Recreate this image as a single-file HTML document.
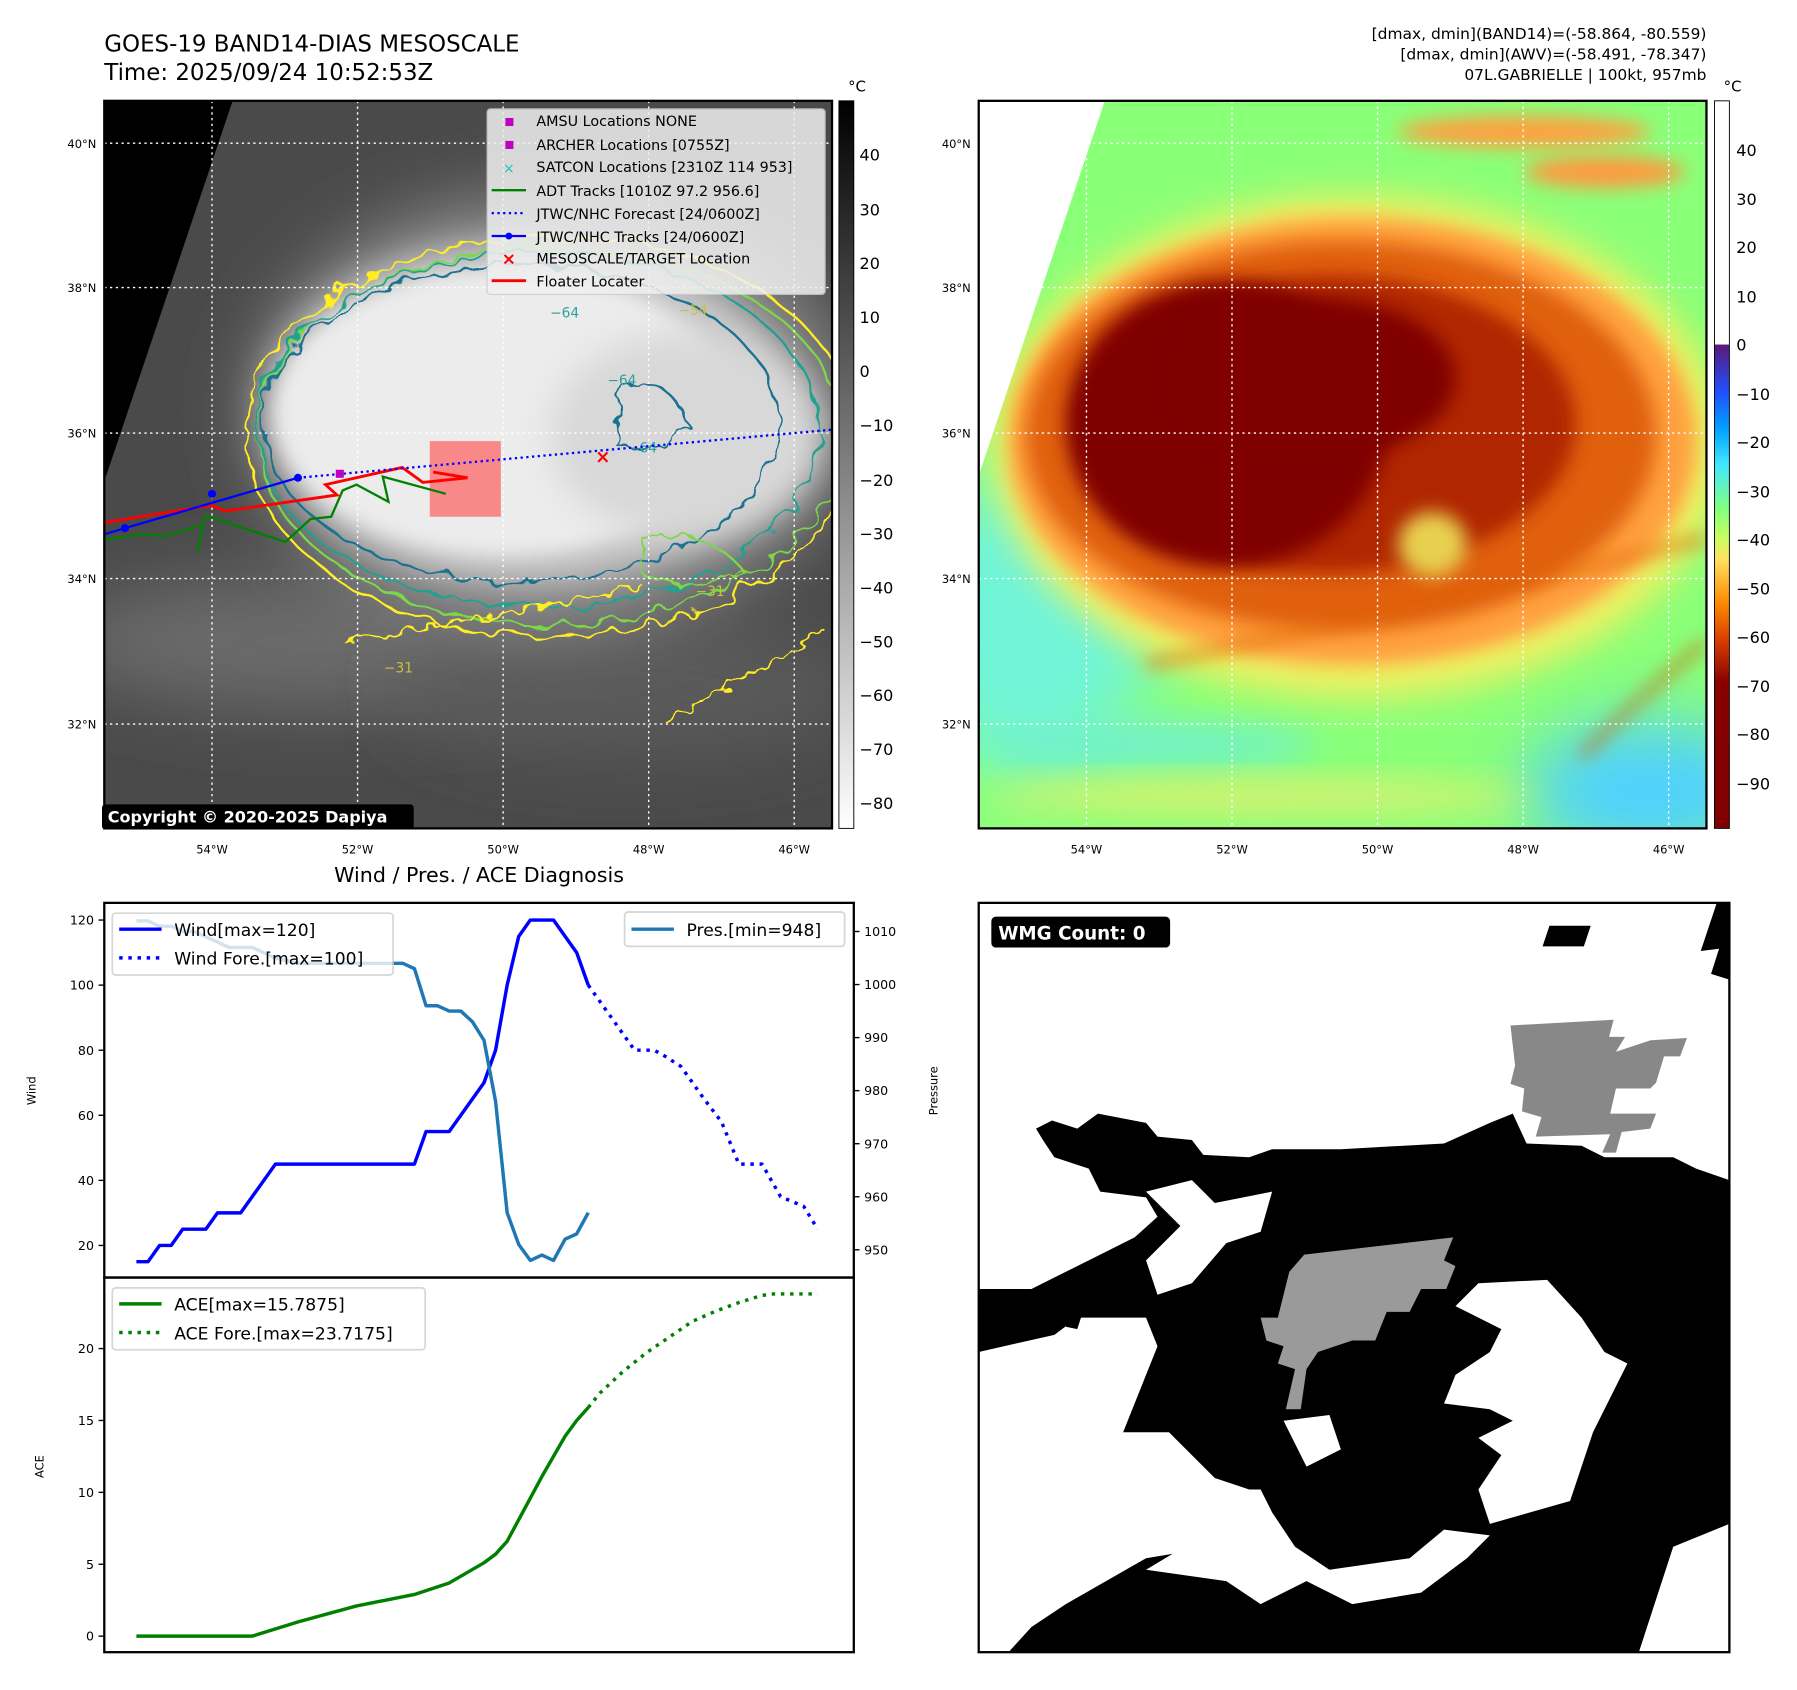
<!DOCTYPE html>
<html><head><meta charset="utf-8"><style>
html,body{margin:0;padding:0;background:#fff}
svg{display:block;font-family:"DejaVu Sans","Liberation Sans",sans-serif}
</style></head><body>
<svg id="fig" width="1797" height="1690" viewBox="0 0 1568 1475" preserveAspectRatio="none" xmlns="http://www.w3.org/2000/svg">
<defs>
<filter id="rough" x="-10%" y="-10%" width="120%" height="120%"><feTurbulence type="fractalNoise" baseFrequency="0.05" numOctaves="2" seed="3"/><feDisplacementMap in="SourceGraphic" scale="18"/></filter>
<filter id="rough2" x="-10%" y="-10%" width="120%" height="120%"><feTurbulence type="fractalNoise" baseFrequency="0.08" numOctaves="2" seed="7"/><feDisplacementMap in="SourceGraphic" scale="14"/></filter>
<filter id="blur8" x="-50%" y="-50%" width="200%" height="200%"><feGaussianBlur stdDeviation="8"/></filter>
<filter id="blur15" x="-50%" y="-50%" width="200%" height="200%"><feGaussianBlur stdDeviation="15"/></filter>
<filter id="blur30" x="-50%" y="-50%" width="200%" height="200%"><feGaussianBlur stdDeviation="30"/></filter>
<clipPath id="clipL"><rect x="91" y="88" width="635" height="635"/></clipPath>
<clipPath id="clipR"><rect x="854" y="88" width="635" height="635"/></clipPath>
<clipPath id="clipW"><rect x="854" y="788" width="655" height="654"/></clipPath>
<linearGradient id="cbL" x1="0" y1="0" x2="0" y2="1"><stop offset="0" stop-color="#000"/><stop offset="1" stop-color="#fff"/></linearGradient>
<linearGradient id="cbR" x1="0" y1="0" x2="0" y2="1">
<stop offset="0" stop-color="#fff"/><stop offset="0.334" stop-color="#fff"/><stop offset="0.336" stop-color="#5a1a78"/>
<stop offset="0.40" stop-color="#2050ff"/><stop offset="0.45" stop-color="#00a0ff"/><stop offset="0.50" stop-color="#40e8ff"/>
<stop offset="0.56" stop-color="#80ff80"/><stop offset="0.60" stop-color="#c8ff60"/><stop offset="0.63" stop-color="#ffe060"/>
<stop offset="0.69" stop-color="#ff8a00"/><stop offset="0.74" stop-color="#d84000"/><stop offset="0.80" stop-color="#880000"/><stop offset="1" stop-color="#800000"/></linearGradient>
</defs>

<!-- Titles -->
<text x="91" y="45" font-size="20">GOES-19 BAND14-DIAS MESOSCALE</text>
<text x="91" y="70" font-size="20">Time: 2025/09/24 10:52:53Z</text>
<g font-size="13.5" text-anchor="end">
<text x="1489" y="34">[dmax, dmin](BAND14)=(-58.864, -80.559)</text>
<text x="1489" y="52">[dmax, dmin](AWV)=(-58.491, -78.347)</text>
<text x="1489" y="70">07L.GABRIELLE | 100kt, 957mb</text>
</g>

<!-- LEFT MAP -->
<g clip-path="url(#clipL)">
<rect x="91" y="88" width="635" height="635" fill="#4a4a4a"/>
<ellipse cx="300" cy="560" rx="250" ry="60" fill="#6a6a6a" filter="url(#blur30)"/>
<ellipse cx="550" cy="600" rx="200" ry="60" fill="#5a5a5a" filter="url(#blur30)"/>
<ellipse cx="480" cy="360" rx="260" ry="190" fill="#8a8a8a" filter="url(#blur30)"/>
<ellipse cx="460" cy="360" rx="230" ry="150" fill="#c8c8c8" filter="url(#blur15)"/>
<ellipse cx="440" cy="360" rx="200" ry="125" fill="#ececec" filter="url(#blur8)"/>
<ellipse cx="600" cy="380" rx="120" ry="90" fill="#d8d8d8" filter="url(#blur15)"/>
<g fill="none" stroke-width="2" filter="url(#rough)">
<ellipse cx="480" cy="380" rx="265" ry="175" stroke="#ffee22"/>
<ellipse cx="480" cy="380" rx="255" ry="165" stroke="#7ad84a"/>
<ellipse cx="470" cy="375" rx="245" ry="155" stroke="#20a090"/>
<ellipse cx="455" cy="370" rx="225" ry="138" stroke="#1a7090"/>
</g>
<g fill="none" stroke-width="2" filter="url(#rough2)">
<path d="M300 560 Q430 540 560 510" stroke="#ffee22"/>
<path d="M580 630 Q650 590 720 550" stroke="#ffee22"/>
<path d="M540 340 Q580 320 600 370 Q580 400 540 390 Z" stroke="#1a7090"/>
<path d="M560 470 Q620 460 650 500 Q600 520 560 500 Z" stroke="#7ad84a"/>
</g>
<polygon points="91,88 203,88 91,420" fill="#000"/>
<g stroke="#fff" stroke-width="1.2" stroke-dasharray="2,3">
<line x1="185" y1="88" x2="185" y2="723"/><line x1="312" y1="88" x2="312" y2="723"/><line x1="439" y1="88" x2="439" y2="723"/><line x1="566" y1="88" x2="566" y2="723"/><line x1="693" y1="88" x2="693" y2="723"/>
<line x1="91" y1="125" x2="726" y2="125"/><line x1="91" y1="251" x2="726" y2="251"/><line x1="91" y1="378" x2="726" y2="378"/><line x1="91" y1="505" x2="726" y2="505"/><line x1="91" y1="632" x2="726" y2="632"/>
</g>
<g font-size="12" fill="#2aa0a0"><text x="480" y="277">−64</text><text x="530" y="336">−64</text><text x="548" y="395">−64</text><text x="592" y="275" fill="#c8c040">−54</text><text x="335" y="587" fill="#c8c040">−31</text><text x="607" y="520" fill="#c8c040">−31</text></g>
<rect x="375" y="385" width="62" height="66" fill="#ff6060" opacity="0.7"/>
<polyline points="92,471 124,466 144,468 177,458 172,483 179,450 249,473 271,453 289,451 299,428 311,423 339,438 334,416 389,431" fill="none" stroke="#008000" stroke-width="2"/>
<polyline points="92,456 184,441 197,446 294,432 284,423 351,408 369,421 408,417 378,412" fill="none" stroke="#ff0000" stroke-width="2.5"/>
<polyline points="92,466 109,461 260,417" fill="none" stroke="#0000ff" stroke-width="2"/>
<circle cx="109" cy="461" r="3.5" fill="#0000ff"/><circle cx="260" cy="417" r="3.5" fill="#0000ff"/><circle cx="185" cy="431" r="3.5" fill="#0000ff"/>
<line x1="260" y1="417" x2="726" y2="375" stroke="#0000ff" stroke-width="2" stroke-dasharray="2,3"/>
<rect x="293" y="410" width="7" height="7" fill="#c000c0"/>
<text x="526" y="404" font-size="16" font-weight="bold" fill="#ff0000" text-anchor="middle">×</text>
</g>
<rect x="91" y="88" width="635" height="635" fill="none" stroke="#000" stroke-width="2"/>
<g font-size="12.5">
<rect x="425" y="95" width="295" height="162" fill="#f0f0f0" opacity="0.85" stroke="#ccc" rx="3"/>
<rect x="441" y="103" width="7" height="7" fill="#c000c0"/><text x="468" y="110">AMSU Locations NONE</text>
<rect x="441" y="123" width="7" height="7" fill="#c000c0"/><text x="468" y="131">ARCHER Locations [0755Z]</text>
<text x="444" y="151" font-size="12" fill="#20c0c0" text-anchor="middle">×</text><text x="468" y="150">SATCON Locations [2310Z 114 953]</text>
<line x1="429" y1="166" x2="459" y2="166" stroke="#008000" stroke-width="2"/><text x="468" y="171">ADT Tracks [1010Z 97.2 956.6]</text>
<line x1="429" y1="186" x2="459" y2="186" stroke="#0000ff" stroke-width="2" stroke-dasharray="2,3"/><text x="468" y="191">JTWC/NHC Forecast [24/0600Z]</text>
<line x1="429" y1="206" x2="459" y2="206" stroke="#0000ff" stroke-width="2"/><circle cx="444" cy="206" r="3" fill="#0000ff"/><text x="468" y="211">JTWC/NHC Tracks [24/0600Z]</text>
<text x="444" y="231" font-size="15" font-weight="bold" fill="#ff0000" text-anchor="middle">×</text><text x="468" y="230">MESOSCALE/TARGET Location</text>
<line x1="429" y1="245" x2="459" y2="245" stroke="#ff0000" stroke-width="2.5"/><text x="468" y="250">Floater Locater</text>
</g>
<g><rect x="89" y="702" width="272" height="22" rx="3" fill="#000"/><text x="94" y="718" font-size="14" font-weight="bold" fill="#fff">Copyright © 2020-2025 Dapiya</text></g>
<g font-size="10" text-anchor="end"><text x="84" y="129">40°N</text><text x="84" y="255">38°N</text><text x="84" y="382">36°N</text><text x="84" y="509">34°N</text><text x="84" y="636">32°N</text></g>
<g font-size="10" text-anchor="middle"><text x="185" y="745">54°W</text><text x="312" y="745">52°W</text><text x="439" y="745">50°W</text><text x="566" y="745">48°W</text><text x="693" y="745">46°W</text></g>
<g>
<rect x="732" y="88" width="13" height="635" fill="url(#cbL)" stroke="#000" stroke-width="0.8"/>
<text x="740" y="80" font-size="13">°C</text>
<g font-size="14"><text x="750" y="140">40</text><text x="750" y="188">30</text><text x="750" y="235">20</text><text x="750" y="282">10</text><text x="750" y="329">0</text><text x="750" y="376">−10</text><text x="750" y="424">−20</text><text x="750" y="471">−30</text><text x="750" y="518">−40</text><text x="750" y="565">−50</text><text x="750" y="612">−60</text><text x="750" y="659">−70</text><text x="750" y="706">−80</text></g>
</g>

<!-- RIGHT MAP -->
<g clip-path="url(#clipR)">
<rect x="854" y="88" width="635" height="635" fill="#8aff78"/>
<ellipse cx="900" cy="540" rx="110" ry="130" fill="#70f4d8" filter="url(#blur30)"/>
<ellipse cx="1440" cy="690" rx="110" ry="60" fill="#50d0ff" filter="url(#blur30)"/>
<ellipse cx="1000" cy="650" rx="150" ry="18" fill="#70f0d0" filter="url(#blur15)"/>
<ellipse cx="1100" cy="695" rx="240" ry="14" fill="#e0f070" filter="url(#blur15)"/>
<ellipse cx="1330" cy="115" rx="110" ry="14" fill="#ffa040" filter="url(#blur8)"/>
<ellipse cx="1400" cy="150" rx="70" ry="14" fill="#ff9a40" filter="url(#blur8)"/>
<ellipse cx="1160" cy="195" rx="60" ry="10" fill="#ffc050" filter="url(#blur8)"/>
<ellipse cx="1185" cy="390" rx="320" ry="220" fill="#f0f060" filter="url(#blur15)"/>
<ellipse cx="1180" cy="385" rx="300" ry="195" fill="#ffa040" filter="url(#blur8)"/>
<ellipse cx="1170" cy="380" rx="275" ry="170" fill="#e06010" filter="url(#blur8)"/>
<ellipse cx="1160" cy="370" rx="215" ry="130" fill="#b02800" filter="url(#blur8)"/>
<ellipse cx="1070" cy="370" rx="140" ry="125" fill="#800000" filter="url(#blur8)"/>
<ellipse cx="1150" cy="330" rx="120" ry="70" fill="#800000" filter="url(#blur8)"/>
<ellipse cx="1250" cy="475" rx="30" ry="28" fill="#e8d050" filter="url(#blur8)"/>
<path d="M1000 580 Q1200 540 1489 470" stroke="#e06010" stroke-width="6" fill="none" filter="url(#blur8)"/>
<path d="M1380 660 Q1440 600 1489 560" stroke="#d05000" stroke-width="5" fill="none" filter="url(#blur8)"/>
<polygon points="854,88 964,88 854,415" fill="#fff"/>
<g stroke="#fff" stroke-width="1.2" stroke-dasharray="2,3">
<line x1="948" y1="88" x2="948" y2="723"/><line x1="1075" y1="88" x2="1075" y2="723"/><line x1="1202" y1="88" x2="1202" y2="723"/><line x1="1329" y1="88" x2="1329" y2="723"/><line x1="1456" y1="88" x2="1456" y2="723"/>
<line x1="854" y1="125" x2="1489" y2="125"/><line x1="854" y1="251" x2="1489" y2="251"/><line x1="854" y1="378" x2="1489" y2="378"/><line x1="854" y1="505" x2="1489" y2="505"/><line x1="854" y1="632" x2="1489" y2="632"/>
</g>
</g>
<rect x="854" y="88" width="635" height="635" fill="none" stroke="#000" stroke-width="2"/>
<g font-size="10" text-anchor="end"><text x="847" y="129">40°N</text><text x="847" y="255">38°N</text><text x="847" y="382">36°N</text><text x="847" y="509">34°N</text><text x="847" y="636">32°N</text></g>
<g font-size="10" text-anchor="middle"><text x="948" y="745">54°W</text><text x="1075" y="745">52°W</text><text x="1202" y="745">50°W</text><text x="1329" y="745">48°W</text><text x="1456" y="745">46°W</text></g>
<g>
<rect x="1496" y="88" width="13" height="635" fill="url(#cbR)" stroke="#000" stroke-width="0.8"/>
<text x="1504" y="80" font-size="13">°C</text>
<g font-size="14"><text x="1515" y="136">40</text><text x="1515" y="179">30</text><text x="1515" y="221">20</text><text x="1515" y="264">10</text><text x="1515" y="306">0</text><text x="1515" y="349">−10</text><text x="1515" y="391">−20</text><text x="1515" y="434">−30</text><text x="1515" y="476">−40</text><text x="1515" y="519">−50</text><text x="1515" y="561">−60</text><text x="1515" y="604">−70</text><text x="1515" y="646">−80</text><text x="1515" y="689">−90</text></g>
</g>

<!-- WMG PANEL -->
<g clip-path="url(#clipW)">
<rect x="854" y="788" width="655" height="654" fill="#fff"/>
<polygon fill="#000" points="904,985 918,978 940,985 958,972 1000,980 1010,992 1040,995 1050,1008 1090,1010 1110,1003 1170,1003 1260,998 1300,980 1320,972 1332,998 1380,1000 1400,1010 1460,1010 1480,1020 1509,1030 1509,1442 854,1442 854,1125 900,1125 920,1115 960,1095 990,1080 1010,1062 1000,1045 960,1040 950,1020 920,1010 910,995"/>
<polygon fill="#fff" points="1000,1040 1040,1030 1060,1050 1110,1040 1100,1075 1070,1085 1040,1120 1010,1130 1000,1100 1030,1070"/>
<polygon fill="#fff" points="854,1180 920,1165 940,1150 1000,1150 1010,1175 980,1250 1020,1250 1060,1290 1090,1300 1060,1350 1000,1360 930,1400 900,1420 880,1442 854,1442"/>
<polygon fill="#fff" points="1000,1370 1070,1380 1100,1400 1140,1380 1180,1400 1240,1390 1280,1360 1300,1340 1260,1335 1230,1360 1160,1370 1130,1350 1110,1320 1100,1300 1060,1300 1050,1340"/>
<polygon fill="#fff" points="1270,1140 1290,1120 1350,1117 1380,1150 1400,1180 1420,1190 1390,1250 1370,1310 1300,1330 1290,1300 1310,1270 1290,1255 1320,1240 1300,1230 1260,1225 1270,1200 1300,1180 1310,1160"/>
<polygon fill="#fff" points="1460,1350 1509,1330 1509,1442 1430,1442"/>
<polygon fill="#fff" points="1120,1240 1160,1235 1170,1265 1140,1280"/>
<polygon fill="#fff" points="1440,950 1500,950 1509,940 1509,1000 1480,1010 1460,1000"/>
<polygon fill="#000" points="1352,808 1388,808 1382,826 1346,826"/>
<polygon fill="#000" points="1498,788 1509,788 1509,855 1493,850 1500,828 1484,830"/>
<polygon fill="#000" points="936,1132 948,1135 940,1160 930,1158"/>
<polygon fill="#9a9a9a" points="1138,1095 1268,1080 1260,1100 1270,1105 1262,1125 1240,1125 1230,1145 1210,1145 1200,1170 1180,1170 1150,1180 1140,1195 1135,1230 1122,1230 1130,1195 1115,1190 1120,1175 1105,1170 1100,1150 1115,1150 1125,1110"/>
<polygon fill="#888" points="1318,895 1408,890 1404,905 1418,905 1410,918 1440,908 1472,906 1466,922 1452,922 1445,945 1440,950 1410,950 1405,972 1445,972 1440,985 1415,988 1410,1006 1398,1006 1405,990 1340,992 1345,975 1328,970 1330,950 1318,946 1322,930"/>
</g>
<rect x="854" y="788" width="655" height="654" fill="none" stroke="#000" stroke-width="2"/>
<g><rect x="865" y="800" width="156" height="27" rx="4" fill="#000"/><text x="871" y="820" font-size="16" font-weight="bold" fill="#fff">WMG Count: 0</text></g>

<!-- CHARTS -->
<text x="418" y="770" font-size="18" text-anchor="middle">Wind / Pres. / ACE Diagnosis</text>
<rect x="91" y="788" width="654" height="327" fill="#fff" stroke="#000" stroke-width="2"/>
<rect x="91" y="1115" width="654" height="327" fill="none" stroke="#000" stroke-width="2"/>
<g id="chart"></g>
</svg>
<script>
// ---- data ----
const windT = [0,1,2,3,4,6,7,9,12,24,25,27,30,31,32,33,34,36,38,39];
const windV = [15,15,20,20,25,25,30,30,45,45,55,55,70,80,100,115,120,120,110,100];
const windFT = [39,40,42,43,44.7,45.7,47,49,50.5,52,54,55.6,57.6,58.8];
const windFV = [100,95,85,80,80,78,75,65,58,45,45,35,32,25];
const presT = [0,1,2,3,4,5,6,7,8,10,12,14,23,24,25,26,27,28,29,30,31,32,33,34,35,36,37,38,39];
const presV = [1012,1012,1011,1011,1010,1010,1009,1008,1007,1007,1005,1004,1004,1003,996,996,995,995,993,989.5,978,957,951,948,949,948,952,953,957];
const aceT = [0,10,14,19,24,27,30,31,32,33,35,37,38,39];
const aceV = [0,0,1.0,2.1,2.9,3.7,5.1,5.7,6.6,8.1,11.1,13.9,15.0,15.9];
const aceFT = [39,40,42,44,46,48,50,52,54,55,58.8];
const aceFV = [15.9,16.9,18.4,19.7,20.8,21.9,22.6,23.2,23.7,23.8,23.8];
const windTicks = [20,40,60,80,100,120];
const presTicks = [950,960,970,980,990,1000,1010];
const aceTicks = [0,5,10,15,20];

const NS="http://www.w3.org/2000/svg";
const g=document.getElementById('chart');
const X=t=>119+t*10.11;
const YW=v=>803+(120-v)*2.84;
const YP=v=>813+(1010-v)*4.63;
const YA=v=>1428-v*12.55;
function mk(tag,attrs){const e=document.createElementNS(NS,tag);for(const k in attrs)e.setAttribute(k,attrs[k]);g.appendChild(e);return e;}
function line(ts,vs,yf,color,dash,name){
  const p=mk('polyline',{points:ts.map((t,i)=>X(t)+','+yf(vs[i])).join(' '),fill:'none',stroke:color,'stroke-width':3,'stroke-dasharray':dash||'none','stroke-linejoin':'round'});
  
  
}
line(windT,windV,YW,'#0000ff',null,'wind-line');
line(windFT,windFV,YW,'#0000ff','3,5','wind-forecast-line');
line(presT,presV,YP,'#1f77b4',null,'pressure-line');
line(aceT,aceV,YA,'#008000',null,'ace-line');
line(aceFT,aceFV,YA,'#008000','3,5','ace-forecast-line');
function ticks(arr,yf,x1,x2,tx,anchor,name){
  arr.forEach(v=>{
    mk('line',{x1:x1,x2:x2,y1:yf(v),y2:yf(v),stroke:'#000','stroke-width':1.2});
    const t=mk('text',{x:tx,y:yf(v)+4,'font-size':11,'text-anchor':anchor});t.textContent=v;
    
    
  });
}
ticks(windTicks,YW,86,91,82,'end','wind-tick-label');
ticks(presTicks,YP,745,750,754,'start','pressure-tick-label');
ticks(aceTicks,YA,86,91,82,'end','ace-tick-label');
function txt(x,y,s,size,extra,name){const t=mk('text',Object.assign({x:x,y:y,'font-size':size},extra||{}));t.textContent=s;
  
  return t;}
txt(31,952,'Wind',10,{transform:'rotate(-90 31 952)','text-anchor':'middle'},'wind-axis-title');
txt(818,952,'Pressure',10,{transform:'rotate(-90 818 952)','text-anchor':'middle'},'pressure-axis-title');
txt(38,1280,'ACE',10,{transform:'rotate(-90 38 1280)','text-anchor':'middle'},'ace-axis-title');
// legends
mk('rect',{x:98,y:797,width:245,height:54,fill:'#fff',opacity:0.8,stroke:'#ccc','stroke-width':1.5,rx:3});
mk('line',{x1:104,x2:141,y1:811,y2:811,stroke:'#0000ff','stroke-width':3});
txt(152,817,'Wind[max=120]',15,{},'wind-legend');
mk('line',{x1:104,x2:141,y1:836,y2:836,stroke:'#0000ff','stroke-width':3,'stroke-dasharray':'3,5'});
txt(152,842,'Wind Fore.[max=100]',15,{},'wind-forecast-legend');
mk('rect',{x:545,y:796,width:192,height:30,fill:'#fff',opacity:0.8,stroke:'#ccc','stroke-width':1.5,rx:3});
mk('line',{x1:551,x2:588,y1:811,y2:811,stroke:'#1f77b4','stroke-width':3});
txt(599,817,'Pres.[min=948]',15,{},'pressure-legend');
mk('rect',{x:98,y:1124,width:273,height:54,fill:'#fff',opacity:0.8,stroke:'#ccc','stroke-width':1.5,rx:3});
mk('line',{x1:104,x2:141,y1:1138,y2:1138,stroke:'#008000','stroke-width':3});
txt(152,1144,'ACE[max=15.7875]',15,{},'ace-legend');
mk('line',{x1:104,x2:141,y1:1163,y2:1163,stroke:'#008000','stroke-width':3,'stroke-dasharray':'3,5'});
txt(152,1169,'ACE Fore.[max=23.7175]',15,{},'ace-forecast-legend');
</script>
</body></html>
